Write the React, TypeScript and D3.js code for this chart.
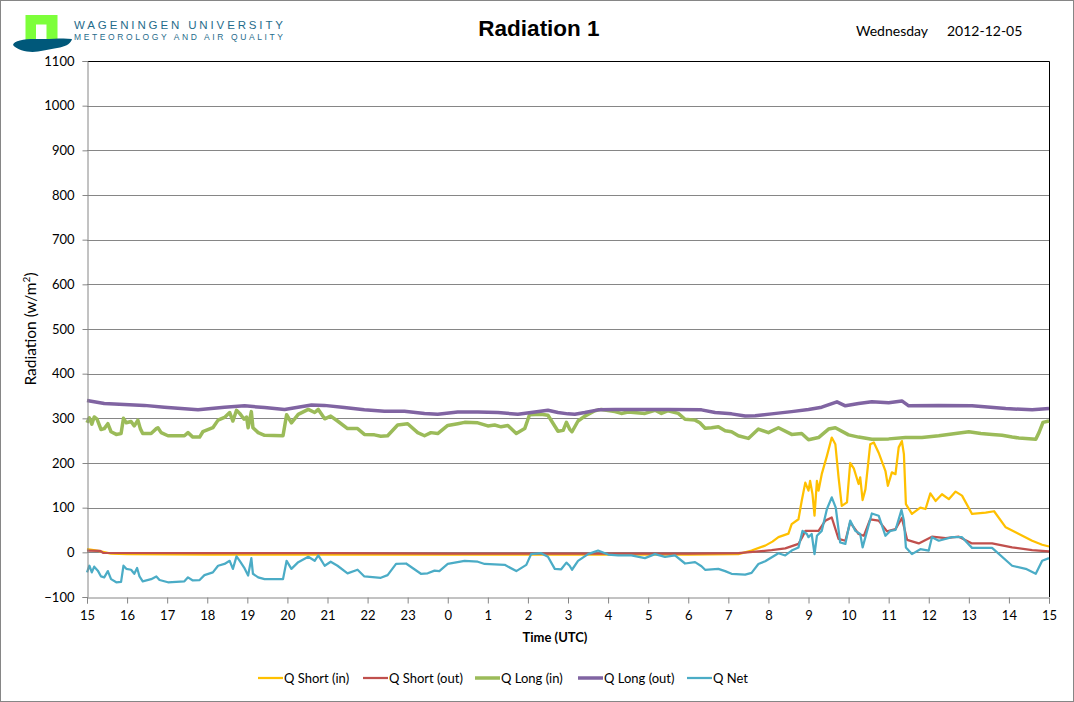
import React, { useEffect, useRef } from 'react';
import * as d3 from 'd3';

type Pt = [number, number]; // [hours since 15:00 UTC, W/m2]

const hourLabels = ['15', '16', '17', '18', '19', '20', '21', '22', '23', '0', '1', '2', '3', '4', '5', '6', '7', '8', '9', '10', '11', '12', '13', '14', '15'];
const yTicks = [-100, 0, 100, 200, 300, 400, 500, 600, 700, 800, 900, 1000, 1100];

const qShortIn: Pt[] = [
  [0, 7], [0.25, 4], [0.6, -3], [1, -4], [3, -5], [6, -5], [9, -5], [12, -5], [15, -5], [16.25, -4],
  [16.58, 4], [16.92, 15], [17.1, 24], [17.25, 34], [17.5, 42], [17.58, 63], [17.75, 74], [17.83, 115], [17.92, 156],
  [18.0, 138], [18.04, 160], [18.1, 130], [18.15, 82], [18.21, 160], [18.25, 138], [18.33, 175], [18.46, 216],
  [18.58, 257], [18.67, 242], [18.75, 168], [18.83, 104], [18.96, 112], [19.04, 200], [19.13, 188], [19.25, 153],
  [19.29, 168], [19.35, 117], [19.42, 141], [19.54, 242], [19.63, 246], [19.75, 223], [19.92, 182], [19.98, 149],
  [20.08, 179], [20.17, 175], [20.25, 235], [20.33, 249], [20.38, 220], [20.43, 108], [20.58, 86], [20.79, 100],
  [20.92, 97], [21.04, 132], [21.17, 115], [21.33, 130], [21.5, 119], [21.67, 136], [21.83, 127], [22.08, 86],
  [22.42, 89], [22.63, 92], [22.92, 56], [23.25, 41], [23.58, 26], [23.83, 17], [24, 13],
];

const qShortOut: Pt[] = [
  [0, 4], [0.33, 3], [0.4, -1], [3, -2], [6, -2], [9, -3], [12, -3], [15, -3], [16.25, -2], [16.75, 2],
  [17.08, 5], [17.42, 9], [17.75, 19], [17.85, 35], [17.92, 48], [18.25, 48], [18.42, 71], [18.58, 78],
  [18.75, 30], [18.92, 26], [19.04, 67], [19.25, 41], [19.38, 37], [19.54, 74], [19.75, 71], [19.96, 47],
  [20.17, 52], [20.33, 77], [20.46, 28], [20.75, 20], [21.08, 35], [21.42, 32], [21.75, 35], [22.08, 20],
  [22.58, 20], [23.08, 11], [23.58, 5], [24, 2],
];

const qLongIn: Pt[] = [
  [0, 290], [0.06, 301], [0.12, 287], [0.18, 303], [0.25, 298], [0.35, 275], [0.43, 277], [0.52, 288], [0.6, 270],
  [0.73, 264], [0.85, 266], [0.91, 300], [0.98, 290], [1.1, 293], [1.18, 283], [1.27, 296], [1.33, 277], [1.39, 266],
  [1.6, 266], [1.73, 277], [1.77, 279], [1.85, 268], [2.02, 261], [2.43, 261], [2.52, 268], [2.64, 258], [2.81, 258],
  [2.89, 270], [3.14, 279], [3.27, 296], [3.43, 302], [3.56, 313], [3.64, 294], [3.73, 318], [3.81, 311], [3.92, 298],
  [3.98, 303], [4.02, 279], [4.1, 315], [4.14, 279], [4.27, 268], [4.43, 262], [4.89, 261], [4.98, 308], [5.1, 290],
  [5.27, 309], [5.52, 320], [5.68, 313], [5.77, 320], [5.93, 299], [6.08, 305], [6.25, 294], [6.5, 277], [6.75, 277],
  [6.92, 264], [7.17, 263], [7.33, 260], [7.5, 261], [7.75, 285], [8, 288], [8.25, 268], [8.42, 261], [8.58, 268],
  [8.75, 266], [9, 284], [9.25, 288], [9.42, 291], [9.75, 290], [10, 283], [10.17, 285], [10.33, 281], [10.5, 284],
  [10.71, 266], [10.92, 277], [11.04, 308], [11.33, 309], [11.5, 307], [11.75, 271], [11.88, 273], [11.96, 291],
  [12.04, 276], [12.1, 270], [12.25, 294], [12.42, 305], [12.67, 317], [12.83, 320], [13.17, 315], [13.33, 311],
  [13.5, 314], [13.92, 311], [14.17, 318], [14.33, 311], [14.5, 317], [14.75, 311], [14.92, 298], [15.17, 296],
  [15.29, 290], [15.42, 278], [15.58, 279], [15.75, 281], [15.92, 272], [16.08, 270], [16.25, 261], [16.5, 255],
  [16.75, 276], [17, 268], [17.25, 279], [17.58, 264], [17.83, 266], [18, 252], [18.25, 257], [18.5, 276],
  [18.67, 279], [19, 263], [19.25, 258], [19.58, 253], [20, 254], [20.42, 257], [20.83, 257], [21.25, 261],
  [21.67, 266], [22, 270], [22.3, 266], [22.58, 264], [22.83, 262], [23.08, 258], [23.25, 256], [23.42, 255],
  [23.67, 253], [23.75, 268], [23.85, 291], [24, 294],
];

const qLongOut: Pt[] = [
  [0, 340], [0.43, 333], [0.93, 331], [1.43, 329], [1.93, 325], [2.77, 319], [3.43, 325], [3.93, 328], [4.43, 324],
  [4.93, 320], [5.6, 330], [5.92, 329], [6.42, 324], [6.92, 319], [7.42, 316], [7.92, 316], [8.42, 311], [8.75, 309],
  [9.25, 314], [9.75, 314], [10.25, 313], [10.75, 309], [11.08, 313], [11.5, 318], [11.75, 313], [12, 310],
  [12.17, 309], [12.42, 313], [12.75, 319], [13.17, 320], [14, 320], [14.5, 320], [15.33, 319], [15.67, 313],
  [16.08, 310], [16.42, 305], [16.67, 306], [17.08, 310], [17.58, 315], [18, 320], [18.33, 325], [18.71, 337],
  [18.92, 328], [19.25, 333], [19.58, 337], [20, 335], [20.33, 339], [20.5, 328], [21.25, 329], [22.08, 328],
  [22.92, 322], [23.58, 319], [24, 322],
];

const qNet: Pt[] = [
  [0, -45], [0.06, -30], [0.12, -45], [0.18, -32], [0.27, -41], [0.35, -54], [0.43, -56], [0.52, -42], [0.6, -60],
  [0.73, -67], [0.85, -66], [0.91, -30], [0.98, -37], [1.1, -39], [1.18, -48], [1.25, -35], [1.31, -54], [1.39, -65],
  [1.6, -60], [1.73, -54], [1.81, -62], [2.02, -67], [2.43, -65], [2.52, -56], [2.64, -63], [2.81, -62], [2.93, -51],
  [3.14, -45], [3.27, -30], [3.43, -26], [3.56, -19], [3.64, -37], [3.73, -9], [3.81, -19], [3.92, -34], [4.02, -52],
  [4.1, -13], [4.14, -48], [4.27, -56], [4.43, -60], [4.89, -60], [4.98, -19], [5.1, -37], [5.27, -22], [5.52, -10],
  [5.68, -19], [5.77, -7], [5.93, -30], [6.08, -21], [6.25, -30], [6.5, -47], [6.75, -39], [6.92, -54], [7.33, -57],
  [7.5, -51], [7.71, -26], [7.96, -25], [8.33, -48], [8.5, -47], [8.67, -41], [8.79, -42], [9, -26], [9.42, -19],
  [9.75, -21], [9.92, -26], [10.42, -28], [10.71, -42], [10.96, -28], [11.08, -4], [11.33, -2], [11.5, -10],
  [11.67, -37], [11.83, -38], [11.96, -23], [12.04, -30], [12.1, -39], [12.25, -19], [12.5, -4], [12.75, 4],
  [13, -5], [13.25, -7], [13.58, -7], [13.92, -13], [14.17, -4], [14.42, -10], [14.67, -7], [14.92, -25],
  [15.17, -22], [15.33, -31], [15.42, -39], [15.75, -37], [15.92, -42], [16.08, -48], [16.42, -50], [16.58, -46],
  [16.75, -26], [16.92, -20], [17.25, -2], [17.42, -7], [17.58, 4], [17.75, 11], [17.85, 48], [17.96, 41],
  [18, 34], [18.08, 41], [18.15, -4], [18.21, 37], [18.33, 48], [18.46, 97], [18.58, 123], [18.68, 100],
  [18.79, 22], [18.92, 19], [19.04, 71], [19.17, 48], [19.29, 41], [19.35, 11], [19.42, 34], [19.58, 87],
  [19.75, 82], [19.92, 37], [20.04, 48], [20.17, 50], [20.32, 95], [20.38, 71], [20.43, 11], [20.58, -4],
  [20.79, 7], [21, 4], [21.08, 34], [21.25, 26], [21.58, 34], [21.83, 34], [22.08, 10], [22.58, 10],
  [23.08, -30], [23.42, -37], [23.67, -48], [23.83, -19], [24, -13],
];

const seriesNames = ['Q Short (in)', 'Q Short (out)', 'Q Long (in)', 'Q Long (out)', 'Q Net'];
const seriesData = [qShortIn, qShortOut, qLongIn, qLongOut, qNet];
const seriesColors = ['#FFC000', '#C0504D', '#9BBB59', '#8064A2', '#4BACC6'];
const seriesWidths = [2.25, 2.25, 3.5, 3.5, 2.25];
const legendX = [258, 363, 475, 578, 687];

const W = 1074;
const H = 702;
const font = "Lato, 'Open Sans', sans-serif";

const RadiationChart: React.FC = () => {
  const ref = useRef<SVGSVGElement>(null);

  useEffect(() => {
    if (!ref.current) return;
    const svg = d3.select(ref.current);
    svg.selectAll('*').remove();

    const plot = { left: 87, right: 1049, top: 61, bottom: 597 };

    const x = d3.scaleLinear().domain([0, 24]).range([plot.left, plot.right]);
    const y = d3.scaleLinear().domain([-100, 1100]).range([plot.bottom, plot.top]);

    svg.append('rect').attr('width', W).attr('height', H).attr('fill', '#fff');
    svg.append('rect')
      .attr('x', 0.5).attr('y', 0.5).attr('width', W - 1).attr('height', H - 1)
      .attr('fill', 'none').attr('stroke', '#868686');

    // logo
    const logo = svg.append('g');
    logo.append('path')
      .attr('d', 'M25.5,15 H57.5 V41 H46.5 V24.5 H36 V41 H25.5 Z')
      .attr('fill', '#7DFF3A');
    logo.append('path')
      .attr('d', 'M13,45 C14,40 26,38.5 40,39 C52,39.5 62,37.5 72,39 C71,43 67,46 60,47.5 C52,49 46,50 38,51.5 C30,53 18,51 13,45 Z')
      .attr('fill', '#00587A');
    logo.append('text')
      .attr('x', 74).attr('y', 28.5)
      .attr('textLength', 209).attr('lengthAdjust', 'spacing')
      .style('font-family', "'Liberation Sans', Arial, sans-serif").style('font-size', '11.5px')
      .attr('fill', '#1F6C8B')
      .text('WAGENINGEN UNIVERSITY');
    logo.append('text')
      .attr('x', 74).attr('y', 40)
      .attr('textLength', 209).attr('lengthAdjust', 'spacing')
      .style('font-family', "'Liberation Sans', Arial, sans-serif").style('font-size', '8.5px')
      .attr('fill', '#1F6C8B')
      .text('METEOROLOGY AND AIR QUALITY');

    // title and date
    svg.append('text')
      .attr('x', 539).attr('y', 36).attr('text-anchor', 'middle')
      .style('font-family', "'Liberation Sans', Arial, sans-serif").style('font-size', '22.5px').style('font-weight', 'bold')
      .text('Radiation 1');
    svg.append('text')
      .attr('x', 856).attr('y', 36)
      .style('font-family', font).style('font-size', '14px')
      .text('Wednesday');
    svg.append('text')
      .attr('x', 947).attr('y', 36)
      .style('font-family', font).style('font-size', '14px')
      .text('2012-12-05');

    // gridlines
    svg.append('g')
      .selectAll('line')
      .data(yTicks.filter(d => d !== -100 && d !== 1100))
      .join('line')
      .attr('x1', plot.left).attr('x2', plot.right)
      .attr('y1', d => Math.round(y(d)) + 0.5).attr('y2', d => Math.round(y(d)) + 0.5)
      .attr('stroke', '#868686').attr('stroke-width', 1);

    // plot border (top/right black)
    svg.append('path')
      .attr('d', `M${plot.left},${plot.top + 0.5} H${plot.right + 0.5} V${plot.bottom}`)
      .attr('fill', 'none').attr('stroke', '#000').attr('stroke-width', 1);

    // series
    const line = d3.line<Pt>()
      .x(d => x(d[0]))
      .y(d => y(d[1]));

    seriesData.forEach((data, i) => {
      svg.append('path')
        .datum(data)
        .attr('fill', 'none')
        .attr('stroke', seriesColors[i])
        .attr('stroke-width', seriesWidths[i])
        .attr('stroke-linejoin', 'round')
        .attr('d', line);
    });

    // axes
    const yAxis = svg.append('g')
      .attr('transform', `translate(${plot.left + 0.5},0)`)
      .call(d3.axisLeft(y).tickValues(yTicks).tickSize(5).tickPadding(8).tickFormat(d3.format('d')));
    yAxis.select('.domain').attr('stroke', '#868686');
    yAxis.selectAll('.tick line').attr('stroke', '#868686');
    yAxis.selectAll('.tick text')
      .style('font-family', font).style('font-size', '13px').attr('fill', '#000');

    const xAxis = svg.append('g')
      .attr('transform', `translate(0,${plot.bottom + 0.5})`)
      .call(d3.axisBottom(x).tickValues(d3.range(0, 25)).tickSize(6).tickPadding(7)
        .tickFormat((d, i) => hourLabels[i]));
    xAxis.select('.domain').attr('stroke', '#868686');
    xAxis.selectAll('.tick line').attr('stroke', '#868686');
    xAxis.selectAll('.tick text')
      .style('font-family', font).style('font-size', '13px').attr('fill', '#000');

    svg.append('text')
      .attr('x', 555).attr('y', 642).attr('text-anchor', 'middle')
      .style('font-family', font).style('font-size', '13px').style('font-weight', 'bold')
      .text('Time (UTC)');

    const yLabel = svg.append('text')
      .attr('transform', 'translate(36,329) rotate(-90)')
      .attr('text-anchor', 'middle')
      .style('font-family', font).style('font-size', '15.5px');
    yLabel.append('tspan').text('Radiation (w/m');
    yLabel.append('tspan').attr('dy', -6).style('font-size', '10px').text('2');
    yLabel.append('tspan').attr('dy', 6).text(')');

    // legend
    const legend = svg.append('g');
    seriesNames.forEach((name, i) => {
      legend.append('line')
        .attr('x1', legendX[i]).attr('x2', legendX[i] + 25)
        .attr('y1', 678).attr('y2', 678)
        .attr('stroke', seriesColors[i]).attr('stroke-width', seriesWidths[i]);
      legend.append('text')
        .attr('x', legendX[i] + 26).attr('y', 682.5)
        .style('font-family', font).style('font-size', '13px')
        .text(name);
    });
  }, []);

  return <svg ref={ref} width={W} height={H} style={{ position: 'absolute', left: 0, top: 0 }} />;
};

export default function App() {
  return <RadiationChart />;
}
